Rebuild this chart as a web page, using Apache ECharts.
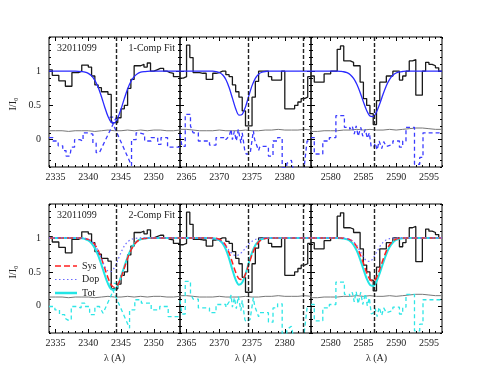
<!DOCTYPE html>
<html>
<head>
<meta charset="utf-8">
<script src="https://cdn.jsdelivr.net/npm/echarts@6/dist/echarts.min.js"></script>
<style>
html,body{margin:0;padding:0;background:#fff;}
#main{width:491px;height:370px;}
</style>
</head>
<body>
<div id="main"></div>
<script>
// wavelength range of each column (A)
var ranges = [[2334, 2354], [2364, 2384], [2577, 2597]];
var lineCenters = [[2344.21], [2374.46, 2382.77], [2586.65]];
var majorTicks = [[2335, 2340, 2345, 2350], [2365, 2370, 2375, 2380], [2580, 2585, 2590, 2595]];
var yMajor = [0, 0.5, 1];
var binWidth = 0.5;

// observed spectrum, 0.5 A bins starting at the left edge of each panel
var flux1 = [1.02,0.94,0.94,0.86,0.86,0.78,0.78,0.98,0.98,1.0,1.09,1.09,1.06,0.93,0.8,0.76,0.7,0.7,0.66,0.25,
             0.25,0.32,0.45,0.5,0.75,0.88,1.08,1.08,1.1,1.06,1.12,1.0,1.02,1.04,1.04,1.0,0.98,0.97,0.92,0.92];
var flux2 = [0.9,0.92,1.38,1.2,0.98,0.98,0.97,0.97,0.88,0.88,0.97,0.98,1.0,1.0,0.95,0.92,0.8,0.7,0.62,0.42,
             0.2,0.2,0.62,0.85,1.0,1.0,1.0,0.92,0.87,0.87,0.87,1.0,0.45,0.45,0.45,0.5,0.55,0.6,0.62,0.92];
var flux3 = [0.93,0.84,0.84,0.84,0.96,0.96,1.0,1.0,1.32,1.37,1.15,1.15,1.13,1.08,1.08,0.84,0.6,0.5,0.38,0.22,
             0.57,0.84,0.84,0.93,0.93,1.0,1.0,0.87,0.93,1.0,1.15,1.17,0.65,0.65,1.0,1.13,1.1,1.08,1.05,1.0];

// error spectrum, 1 A steps
var noise1 = [0.13,0.13,0.12,0.13,0.13,0.13,0.12,0.13,0.14,0.13,0.13,0.14,0.13,0.14,0.13,0.14,0.14,0.13,0.13,0.14,0.14];
var noise2 = [0.15,0.14,0.13,0.13,0.13,0.14,0.13,0.13,0.13,0.14,0.13,0.13,0.14,0.14,0.15,0.14,0.14,0.14,0.15,0.14,0.14];
var noise3 = [0.12,0.13,0.13,0.13,0.14,0.14,0.15,0.14,0.15,0.14,0.14,0.15,0.14,0.15,0.16,0.17,0.17,0.16,0.15,0.15,0.14];

// 1-component fit, sampled at bin edges
var fit1 = [1,1,1,1,1,1,1,1,1,0.999,0.995,0.988,0.969,0.932,0.867,0.765,0.63,0.478,0.341,0.255,
            0.247,0.318,0.448,0.6,0.741,0.85,0.922,0.964,0.985,0.994,0.998,1,1,1,1,1,1,1,1,1,1];
var fit2 = [1,1,1,1,1,1,1,1,1,1,1,0.994,0.981,0.948,0.879,0.761,0.606,0.452,0.359,0.37,
            0.479,0.639,0.789,0.896,0.957,0.985,0.996,1,1,1,1,1,1,1,1,1,1,1,1,1,1];
var fit3 = [1,1,1,1,1,1,1,1,1,0.997,0.992,0.978,0.95,0.896,0.81,0.69,0.552,0.425,0.344,0.336,
            0.404,0.524,0.663,0.788,0.882,0.941,0.974,0.99,0.996,1,1,1,1,1,1,1,1,1,1,1,1];

// 2-component fit: systemic, doppler and total
var sys1 = [1,1,1,1,1,1,1,1,1,1,0.997,0.992,0.979,0.952,0.901,0.818,0.7,0.557,0.415,0.309,
            0.27,0.309,0.415,0.557,0.7,0.818,0.901,0.952,0.979,0.992,0.997,1,1,1,1,1,1,1,1,1,1];
var dop1 = [1,1,1,1,1,1,1,1,1,1,0.998,0.993,0.98,0.951,0.896,0.808,0.697,0.586,0.513,0.506,
            0.567,0.673,0.787,0.881,0.942,0.976,0.991,0.997,1,1,1,1,1,1,1,1,1,1,1,1,1];
var tot1 = [1,1,1,1,1,1,1,1,1,0.998,0.994,0.984,0.962,0.92,0.849,0.744,0.608,0.458,0.326,0.244,
            0.236,0.305,0.429,0.578,0.719,0.831,0.909,0.955,0.98,0.992,0.997,1,1,1,1,1,1,1,1,1,1];
var sys2 = [1,1,1,1,1,1,1,1,1,1,0.998,0.994,0.981,0.95,0.886,0.78,0.639,0.495,0.398,0.388,
            0.47,0.609,0.754,0.868,0.94,0.977,0.992,0.998,1,1,1,1,1,1,1,1,1,1,1,1,1];
var dop2 = [1,1,1,1,1,1,1,1,1,0.998,0.994,0.985,0.965,0.929,0.878,0.818,0.766,0.741,0.752,0.795,
            0.854,0.911,0.953,0.978,0.992,0.997,1,1,1,1,1,1,1,1,1,1,1,1,1,1,1];
var tot2 = [1,1,1,1,1,1,1,1,1,1,0.997,0.989,0.968,0.921,0.832,0.696,0.531,0.385,0.312,0.344,
            0.468,0.632,0.783,0.891,0.953,0.983,0.995,1,1,1,1,1,1,1,1,1,1,1,1,1,1];
var sys3 = [1,1,1,1,1,1,1,1,1,0.999,0.997,0.99,0.973,0.936,0.868,0.762,0.626,0.488,0.387,0.362,
            0.42,0.541,0.683,0.809,0.9,0.954,0.982,0.994,0.998,1,1,1,1,1,1,1,1,1,1,1,1];
var dop3 = [1,1,1,1,1,1,1,1,1,0.999,0.998,0.992,0.977,0.944,0.886,0.805,0.72,0.661,0.655,0.705,
            0.788,0.872,0.935,0.972,0.99,0.997,0.999,1,1,1,1,1,1,1,1,1,1,1,1,1,1];
var tot3 = [1,1,1,1,1,1,1,1,0.999,0.997,0.992,0.979,0.951,0.897,0.809,0.685,0.54,0.402,0.31,0.294,
            0.358,0.482,0.628,0.763,0.866,0.933,0.97,0.988,0.996,0.999,1,1,1,1,1,1,1,1,1,1,1];

// residuals (data - model), [wavelength, value] vertices
var res1a = [[2334.0,0.03],[2334.6,0.03],[2334.6,-0.02],[2335.4,-0.02],[2335.4,-0.09],[2336.1,-0.09],[2336.1,-0.16],[2336.6,-0.16],
    [2336.6,-0.24],[2337.2,-0.24],[2337.4,-0.11],[2337.9,-0.11],[2337.9,0.0],[2338.7,0.0],[2338.7,-0.02],[2339.2,-0.02],[2339.2,0.1],
    [2339.95,0.1],[2339.95,0.08],[2340.7,0.08],[2340.7,-0.05],[2341.2,-0.05],[2341.2,-0.19],[2341.7,-0.19],[2344.3,0.33],[2343.3,0.33],
    [2346.6,-0.38],[2346.6,0.0],[2347.3,0.0],[2347.3,0.1],[2347.8,0.1],[2347.8,0.08],[2348.6,0.08],[2348.6,-0.02],[2349.6,-0.02],
    [2349.6,0.03],[2350.6,0.03],[2350.6,-0.07],[2351.1,-0.07],[2351.1,0.03],[2352.1,0.03],[2352.1,-0.11],[2354,-0.11]];
var res2a = [[2364.0,0.08],[2364.3,0.08],[2364.3,-0.1],[2364.8,-0.1],[2364.8,0.37],[2365.6,0.37],[2365.6,0.2],[2366.0,0.1],
    [2366.8,0.1],[2366.8,-0.02],[2368.5,-0.02],[2368.5,-0.08],[2369.5,-0.08],[2369.5,0.03],[2371.0,0.03],[2371.0,0.0],[2371.5,0.05],
    [2371.8,0.15],[2372.0,0.0],[2372.3,0.12],[2372.6,-0.02],[2372.9,0.15],[2373.3,-0.05],[2373.5,0.1],[2373.9,-0.17],[2374.1,-0.21],
    [2374.7,-0.21],[2375.2,0.13],[2375.4,0.0],[2376.0,-0.16],[2376.2,-0.1],[2377.5,-0.1],[2377.5,-0.24],[2378.2,-0.24],[2378.2,-0.02],
    [2378.9,-0.02],[2378.9,0.03],[2379.6,0.03],[2379.6,-0.41],[2380.3,-0.41],[2380.3,-0.35],[2381.0,-0.3],[2381.3,-0.45],
    [2382.9,-0.45],[2383.4,-0.02],[2384.0,-0.02]];
var res3a = [[2577.0,0.03],[2577.5,0.03],[2577.5,-0.21],[2578.8,-0.21],[2578.8,-0.02],[2579.8,-0.02],[2579.8,0.03],[2580.8,0.03],
    [2580.8,0.35],[2582.1,0.35],[2582.1,0.18],[2582.9,0.18],[2582.9,0.15],[2583.3,0.2],[2583.6,0.08],[2583.9,0.2],[2584.2,0.05],
    [2584.6,0.18],[2584.9,0.05],[2585.3,0.15],[2585.6,0.02],[2585.9,0.1],[2586.2,-0.11],[2586.6,-0.11],[2586.8,-0.05],[2587.1,-0.15],
    [2587.4,-0.02],[2587.8,-0.13],[2588.1,-0.03],[2588.5,-0.1],[2589.5,-0.07],[2589.5,-0.02],[2590.5,-0.02],[2590.5,-0.11],
    [2591.0,-0.11],[2591.0,-0.02],[2591.5,-0.02],[2591.5,0.18],[2592.8,0.18],[2592.8,-0.36],[2593.6,-0.36],[2593.6,-0.26],
    [2594.1,-0.26],[2594.1,0.1],[2597,0.1]];
var res1b = [[2334.0,-0.01],[2334.9,-0.01],[2334.9,-0.06],[2335.6,-0.06],[2335.6,-0.13],[2336.4,-0.13],[2336.4,-0.18],[2336.9,-0.21],
    [2337.4,-0.21],[2337.4,-0.01],[2338.2,-0.01],[2338.2,-0.03],[2338.9,-0.03],[2338.9,0.04],[2339.45,0.04],[2339.45,-0.01],
    [2340.2,-0.01],[2340.2,-0.13],[2341.0,-0.13],[2341.0,-0.01],[2341.7,-0.01],[2342.25,-0.11],[2344.3,0.33],[2343.3,0.33],
    [2346.3,-0.33],[2346.3,-0.06],[2347.1,-0.06],[2347.1,0.09],[2348.1,0.09],[2348.1,0.04],[2349.6,0.04],[2349.6,-0.06],
    [2350.9,-0.06],[2350.9,-0.01],[2352.2,-0.01],[2352.2,-0.16],[2354,-0.16]];
var res2b = [[2364.0,0.08],[2364.3,0.08],[2364.3,-0.12],[2364.8,-0.12],[2364.8,0.36],[2365.6,0.36],[2365.6,0.18],[2366.0,0.1],
    [2366.8,0.1],[2366.8,-0.03],[2368.5,-0.03],[2368.5,-0.1],[2369.5,-0.1],[2369.5,0.02],[2371.0,0.02],[2371.0,-0.02],[2371.5,0.06],
    [2371.8,0.16],[2372.0,-0.02],[2372.3,0.12],[2372.6,-0.04],[2372.9,0.14],[2373.3,-0.07],[2373.5,0.08],[2373.9,-0.2],[2374.1,-0.24],
    [2374.7,-0.2],[2375.2,0.12],[2375.4,0.0],[2376.0,-0.16],[2376.2,-0.1],[2377.5,-0.1],[2377.5,-0.24],[2378.2,-0.24],[2378.2,-0.03],
    [2378.9,-0.03],[2378.9,0.03],[2379.6,0.03],[2379.6,-0.41],[2380.3,-0.41],[2380.3,-0.35],[2381.0,-0.3],[2381.3,-0.45],
    [2382.9,-0.45],[2383.4,-0.03],[2384.0,-0.03]];
var res3b = [[2577.0,0.02],[2577.5,0.02],[2577.5,-0.22],[2578.8,-0.22],[2578.8,-0.03],[2579.8,-0.03],[2579.8,0.02],[2580.8,0.02],
    [2580.8,0.35],[2582.1,0.35],[2582.1,0.17],[2582.9,0.17],[2582.9,0.14],[2583.3,0.2],[2583.6,0.06],[2583.9,0.21],[2584.2,0.03],
    [2584.6,0.2],[2584.9,0.02],[2585.3,0.18],[2585.6,0.0],[2585.9,0.12],[2586.2,-0.12],[2586.6,-0.1],[2586.8,-0.04],[2587.1,-0.16],
    [2587.4,-0.02],[2587.8,-0.14],[2588.1,-0.03],[2588.5,-0.1],[2589.5,-0.07],[2589.5,-0.02],[2590.5,-0.02],[2590.5,-0.12],
    [2591.0,-0.12],[2591.0,-0.02],[2591.5,-0.02],[2591.5,0.17],[2592.8,0.17],[2592.8,-0.37],[2593.6,-0.37],[2593.6,-0.27],
    [2594.1,-0.27],[2594.1,0.09],[2597,0.09]];

var fluxes = [flux1, flux2, flux3];
var noises = [noise1, noise2, noise3];
var fits = [fit1, fit2, fit3];
var syss = [sys1, sys2, sys3];
var dops = [dop1, dop2, dop3];
var tots = [tot1, tot2, tot3];
var resTop = [res1a, res2a, res3a];
var resBot = [res1b, res2b, res3b];

var rowTop = [37, 204];
var rowH = [130, 129];
var colLeft = [49, 180, 311];
var colW = 131;
var FONT = '"Liberation Serif", serif';

function stepData(vals, lo, w) {
    var d = vals.map(function (v, i) { return [lo + i * w, v]; });
    d.push([lo + vals.length * w, vals[vals.length - 1]]);
    return d;
}
function curveData(vals, lo) {
    return vals.map(function (v, i) { return [lo + i * binWidth, v]; });
}
function tick(len, vals) {
    var t = {show: true, inside: true, length: len, lineStyle: {color: '#000', width: 1}};
    if (vals) t.customValues = vals;
    return t;
}
var noLine = {show: false, onZero: false};

var grids = [], xAxes = [], yAxes = [], series = [];

for (var row = 0; row < 2; row++) {
    for (var col = 0; col < 3; col++) {
        var g = row * 3 + col;
        var lo = ranges[col][0], hi = ranges[col][1];
        grids.push({left: colLeft[col], top: rowTop[row], width: colW, height: rowH[row],
            show: true, borderColor: '#000', borderWidth: 1, backgroundColor: 'transparent'});

        // bottom major with labels, bottom minor, top major, top minor
        xAxes.push({gridIndex: g, type: 'value', min: lo, max: hi, position: 'bottom',
            axisLine: noLine, splitLine: {show: false}, axisTick: tick(4, majorTicks[col]),
            axisLabel: {customValues: majorTicks[col], margin: 5, fontFamily: FONT, fontSize: 10, color: '#222',
                formatter: function (v) { return String(v); }}});
        xAxes.push({gridIndex: g, type: 'value', min: lo, max: hi, interval: 1, position: 'bottom',
            axisLine: noLine, splitLine: {show: false}, axisTick: tick(2), axisLabel: {show: false}});
        xAxes.push({gridIndex: g, type: 'value', min: lo, max: hi, position: 'top',
            axisLine: noLine, splitLine: {show: false}, axisTick: tick(4, majorTicks[col]), axisLabel: {show: false}});
        xAxes.push({gridIndex: g, type: 'value', min: lo, max: hi, interval: 1, position: 'top',
            axisLine: noLine, splitLine: {show: false}, axisTick: tick(2), axisLabel: {show: false}});

        yAxes.push({gridIndex: g, type: 'value', min: -0.4, max: 1.5, position: 'left',
            axisLine: noLine, splitLine: {show: false}, axisTick: tick(4, yMajor),
            axisLabel: {show: col === 0, customValues: yMajor, margin: 8, fontFamily: FONT, fontSize: 10, color: '#222',
                formatter: function (v) { return String(+v.toFixed(1)); }}});
        yAxes.push({gridIndex: g, type: 'value', min: -0.4, max: 1.5, interval: 0.1, position: 'left',
            axisLine: noLine, splitLine: {show: false}, axisTick: tick(2), axisLabel: {show: false}});
        yAxes.push({gridIndex: g, type: 'value', min: -0.4, max: 1.5, position: 'right',
            axisLine: noLine, splitLine: {show: false}, axisTick: tick(4, yMajor), axisLabel: {show: false}});
        yAxes.push({gridIndex: g, type: 'value', min: -0.4, max: 1.5, interval: 0.1, position: 'right',
            axisLine: noLine, splitLine: {show: false}, axisTick: tick(2), axisLabel: {show: false}});

        var xi = g * 4, yi = g * 4;
        var base = {type: 'line', xAxisIndex: xi, yAxisIndex: yi, symbol: 'none', silent: true, animation: false};

        // error spectrum
        series.push(Object.assign({}, base, {data: stepData(noises[col], lo, 1), step: 'end',
            lineStyle: {color: '#777', width: 1}}));
        // residuals
        series.push(Object.assign({}, base, {data: (row === 0 ? resTop : resBot)[col],
            lineStyle: {color: row === 0 ? '#3b3bff' : '#2ee6e6', width: 1.3, type: [4, 3]}}));
        // data histogram + line markers
        series.push(Object.assign({}, base, {data: stepData(fluxes[col], lo, binWidth), step: 'end',
            lineStyle: {color: '#1a1a1a', width: 1.3},
            markLine: {silent: true, symbol: 'none', label: {show: false},
                lineStyle: {color: '#222', type: [4, 2], width: 1.4},
                data: lineCenters[col].map(function (c) { return {xAxis: c}; })}}));

        if (row === 0) {
            series.push(Object.assign({}, base, {data: curveData(fits[col], lo), smooth: 0.3,
                lineStyle: {color: '#2a2aff', width: 1.3}}));
        } else {
            series.push(Object.assign({}, base, {data: curveData(tots[col], lo), smooth: 0.3,
                lineStyle: {color: '#22e5e5', width: 2}}));
            series.push(Object.assign({}, base, {data: curveData(syss[col], lo), smooth: 0.3,
                lineStyle: {color: '#ff2020', width: 1.5, type: [6, 3]}}));
            series.push(Object.assign({}, base, {data: curveData(dops[col], lo), smooth: 0.3,
                lineStyle: {color: '#6b6bff', width: 1.2, type: [1.5, 2.5]}}));
        }
    }
}

function txt(x, y, s, align, extra) {
    var o = {type: 'text', x: x, y: y, silent: true,
        style: {text: s, fill: '#222', font: '10px ' + FONT, align: align, textAlign: align,
            verticalAlign: 'middle', textVerticalAlign: 'middle'}};
    if (extra) Object.assign(o, extra);
    return o;
}
var graphics = [
    txt(57, 48, '32011099', 'left'),
    txt(175, 48, '1-Comp Fit', 'right'),
    txt(57, 215, '32011099', 'left'),
    txt(175, 215, '2-Comp Fit', 'right'),
    txt(13, 104, 'I/I\u2080', 'center', {rotation: Math.PI / 2}),
    txt(13, 272, 'I/I\u2080', 'center', {rotation: Math.PI / 2}),
    txt(114.5, 358, '\u03bb (A)', 'center'),
    txt(245.5, 358, '\u03bb (A)', 'center'),
    txt(376.5, 358, '\u03bb (A)', 'center'),
    // legend of the 2-component panel
    {type: 'line', silent: true, shape: {x1: 55, y1: 266, x2: 77, y2: 266}, style: {stroke: '#ff2020', lineWidth: 1.5, lineDash: [6, 3]}},
    {type: 'line', silent: true, shape: {x1: 55, y1: 279.5, x2: 77, y2: 279.5}, style: {stroke: '#6b6bff', lineWidth: 1.2, lineDash: [1.5, 2.5]}},
    {type: 'line', silent: true, shape: {x1: 55, y1: 293, x2: 77, y2: 293}, style: {stroke: '#22e5e5', lineWidth: 2.5}},
    txt(82, 266, 'Sys', 'left'),
    txt(82, 279.5, 'Dop', 'left'),
    txt(82, 293, 'Tot', 'left')
];

var chart = echarts.init(document.getElementById('main'), null, {renderer: 'canvas'});
chart.setOption({
    animation: false,
    backgroundColor: '#fff',
    grid: grids,
    xAxis: xAxes,
    yAxis: yAxes,
    series: series,
    graphic: graphics
});
</script>
</body>
</html>
